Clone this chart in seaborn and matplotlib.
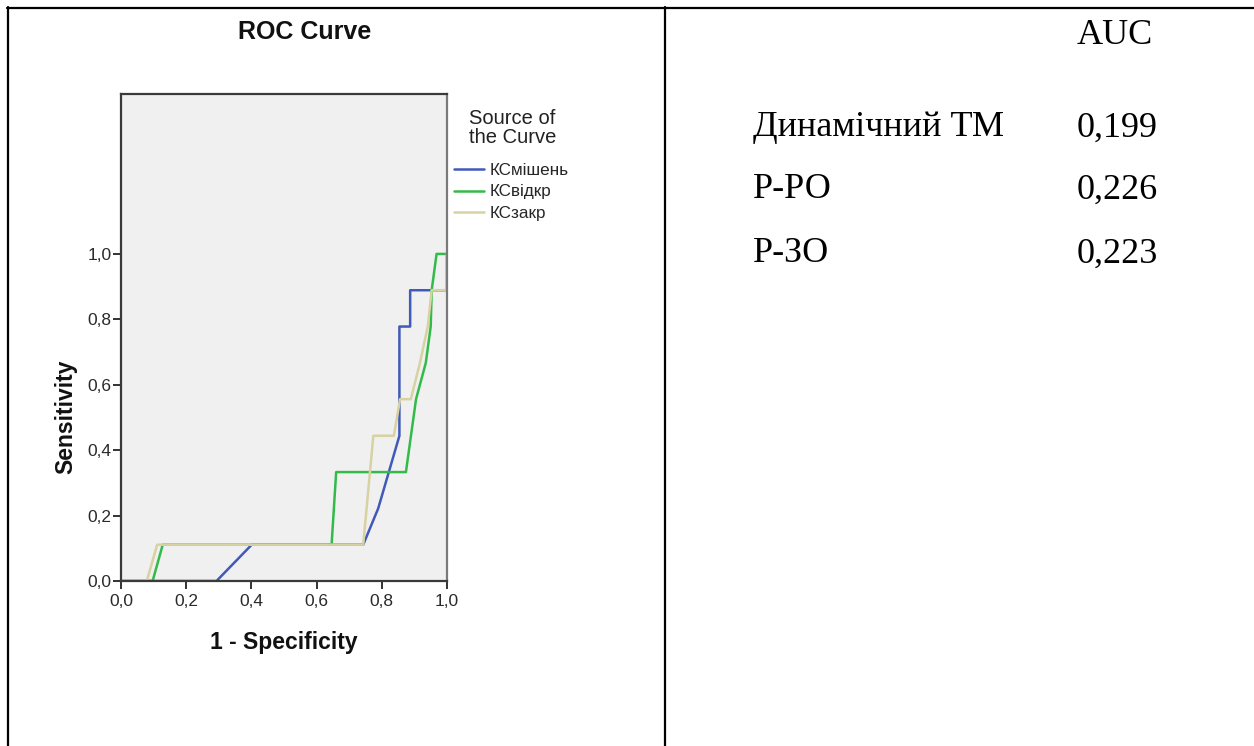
import numpy as np
import pandas as pd
import matplotlib
matplotlib.use("Agg")
import matplotlib.pyplot as plt
from matplotlib.lines import Line2D
import seaborn as sns

# ROC curve points (1 - specificity, sensitivity)
mishen_fpr = [0.0, 0.293, 0.401, 0.743, 0.789, 0.854, 0.854, 0.887, 0.887, 1.0, 1.0]
mishen_tpr = [0.0, 0.0, 0.111, 0.111, 0.222, 0.444, 0.778, 0.778, 0.889, 0.889, 1.0]

vidkr_fpr = [0.0, 0.097, 0.128, 0.646, 0.660, 0.874, 0.905, 0.935, 0.950, 0.953, 0.968, 1.0]
vidkr_tpr = [0.0, 0.0, 0.111, 0.111, 0.333, 0.333, 0.556, 0.667, 0.778, 0.889, 1.0, 1.0]

zakr_fpr = [0.0, 0.079, 0.111, 0.743, 0.774, 0.837, 0.856, 0.889, 0.917, 0.941, 0.953, 1.0, 1.0]
zakr_tpr = [0.0, 0.0, 0.111, 0.111, 0.444, 0.444, 0.556, 0.556, 0.667, 0.778, 0.889, 0.889, 1.0]

curve_names = ["КСмішень", "КСвідкр", "КСзакр"]
curve_colors = ["#4159B8", "#33BB4A", "#D6D2A2"]

tick_values = [0.0, 0.2, 0.4, 0.6, 0.8, 1.0]
tick_labels = ["0,0", "0,2", "0,4", "0,6", "0,8", "1,0"]

auc_methods = ["Динамічний ТМ", "Р-РО", "Р-ЗО"]
auc_values = ["0,199", "0,226", "0,223"]

# long table for seaborn
frames = []
for name, fx_, fy_ in zip(curve_names,
                          [mishen_fpr, vidkr_fpr, zakr_fpr],
                          [mishen_tpr, vidkr_tpr, zakr_tpr]):
    frames.append(pd.DataFrame({"fpr": fx_, "tpr": fy_, "curve": name}))
df = pd.concat(frames, ignore_index=True)

sns.set_theme(style="white")
plt.rcParams['font.family'] = ['Liberation Sans', 'DejaVu Sans']

W, H = 1254, 746
fig = plt.figure(figsize=(W / 100, H / 100), dpi=100)
fig.patch.set_facecolor("white")


def fx(px):
    return px / W


def fy(py):
    return 1 - py / H


# plot area in pixel terms: left 121, right 447, top 94, bottom 581
ax = fig.add_axes([fx(121), fy(581), fx(447) - fx(121), fy(94) - fy(581)])
ax.set_facecolor("#F0F0F0")

sns.lineplot(data=df, x="fpr", y="tpr", hue="curve", hue_order=curve_names,
             palette=dict(zip(curve_names, curve_colors)), sort=False,
             estimator=None, linewidth=1.8, ax=ax)

handles, labels = ax.get_legend_handles_labels()
ax.get_legend().remove()

ax.set_xlim(0, 1)
ax.set_ylim(0, 1.489)
ax.set_xticks(tick_values)
ax.set_xticklabels(tick_labels)
ax.set_yticks(tick_values)
ax.set_yticklabels(tick_labels)
ax.tick_params(axis="both", direction="out", length=6, width=1.4, colors="#333333",
               labelsize=12.5, labelcolor="#2A2A2A")
ax.tick_params(axis="y", pad=1)
ax.tick_params(axis="x", pad=3)
ax.tick_params(top=False, right=False, left=True, bottom=True)

for side in ["left", "bottom", "top"]:
    ax.spines[side].set_color("#3A3A3A")
    ax.spines[side].set_linewidth(1.6)
ax.spines["right"].set_color("#7A7A7A")
ax.spines["right"].set_linewidth(1.6)

ax.set_xlabel("1 - Specificity", fontsize=16.5, fontweight="bold", color="#111111")
ax.set_ylabel("Sensitivity", fontsize=16.5, fontweight="bold", color="#111111")
ax.xaxis.set_label_coords(0.5, (581 - 631) / 487)
ax.yaxis.set_label_coords((77 - 121) / 326, (581 - 417) / 487)

fig.text(fx(305), fy(32), "ROC Curve", ha="center", va="center",
         fontsize=18, fontweight="bold", color="#111111")

# legend
fig.text(fx(469), fy(128), "Source of\nthe Curve", ha="left", va="center",
         fontsize=14.5, color="#222222", linespacing=1.05)
fig.legend(handles, labels, loc="upper left", bbox_to_anchor=(fx(454), fy(163)),
           frameon=False, fontsize=12.3, handlelength=1.75, handletextpad=0.35,
           labelspacing=0.38, borderpad=0, borderaxespad=0)

# table cell borders
line_kw = dict(color="black", linewidth=1.6, transform=fig.transFigure)
fig.add_artist(Line2D([fx(7), 1.0], [fy(7.5), fy(7.5)], **line_kw))
fig.add_artist(Line2D([fx(7.5), fx(7.5)], [fy(7), 0.0], **line_kw))
fig.add_artist(Line2D([fx(665), fx(665)], [fy(7), 0.0], **line_kw))

# AUC table on the right
serif = ['Liberation Serif', 'DejaVu Serif']
fig.text(fx(1077), fy(35), "AUC", ha="left", va="center", fontsize=26,
         family=serif, color="black")
for i, (m, v) in enumerate(zip(auc_methods, auc_values)):
    yrow = [128, 190, 254][i]
    fig.text(fx(753), fy(yrow), m, ha="left", va="center", fontsize=26,
             family=serif, color="black")
    fig.text(fx(1077), fy(yrow), v, ha="left", va="center", fontsize=26,
             family=serif, color="black")

fig.savefig("out.png", dpi=100, facecolor="white")
